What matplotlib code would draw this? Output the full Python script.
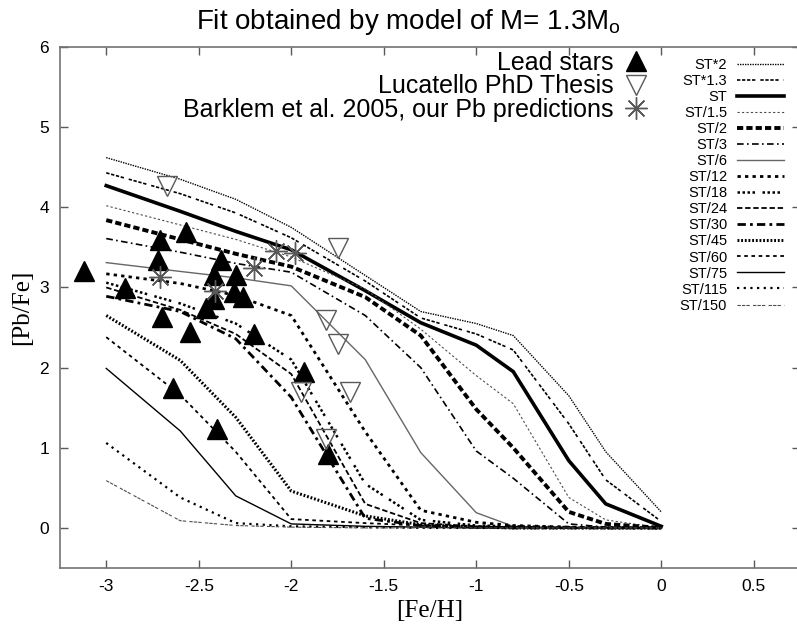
import numpy as np
import matplotlib
matplotlib.use("Agg")
import matplotlib.pyplot as plt

plt.rcParams["font.family"] = ["Liberation Sans", "DejaVu Sans"]
plt.rcParams["mathtext.fontset"] = "custom"
plt.rcParams["mathtext.rm"] = "Liberation Sans"

# model grid in [Fe/H]
feh = [-3.0, -2.6, -2.3, -2.0, -1.6, -1.3, -1.0, -0.8, -0.5, -0.3, 0.0]

# [Pb/Fe] predictions for each 13C-pocket efficiency
st_x2   = [4.62, 4.35, 4.10, 3.75, 3.15, 2.70, 2.55, 2.40, 1.65, 0.95, 0.20]
st_x13  = [4.43, 4.17, 3.93, 3.62, 3.08, 2.62, 2.42, 2.22, 1.30, 0.60, 0.08]
st      = [4.27, 3.95, 3.70, 3.47, 2.96, 2.56, 2.28, 1.95, 0.84, 0.30, 0.02]
st_d15  = [4.02, 3.78, 3.60, 3.38, 2.98, 2.48, 1.90, 1.55, 0.38, 0.10, 0.00]
st_d2   = [3.84, 3.60, 3.42, 3.26, 2.88, 2.40, 1.48, 1.00, 0.20, 0.05, 0.00]
st_d3   = [3.61, 3.44, 3.30, 3.19, 2.65, 2.00, 0.96, 0.62, 0.05, 0.01, 0.00]
st_d6   = [3.31, 3.20, 3.12, 3.02, 2.10, 0.94, 0.19, 0.02, 0.00, 0.00, 0.00]
st_d12  = [3.17, 3.05, 2.90, 2.65, 1.20, 0.22, 0.07, 0.03, 0.01, 0.00, 0.00]
st_d18  = [3.06, 2.80, 2.55, 2.10, 0.55, 0.10, 0.03, 0.02, 0.01, 0.00, 0.00]
st_d24  = [3.00, 2.72, 2.42, 1.92, 0.30, 0.06, 0.02, 0.01, 0.00, 0.00, 0.00]
st_d30  = [2.89, 2.70, 2.36, 1.63, 0.12, 0.03, 0.01, 0.00, 0.00, 0.00, 0.00]
st_d45  = [2.65, 2.09, 1.38, 0.46, 0.15, 0.04, 0.01, 0.00, 0.00, 0.00, 0.00]
st_d60  = [2.38, 1.66, 0.95, 0.11, 0.06, 0.03, 0.02, 0.01, 0.00, 0.00, 0.00]
st_d75  = [1.99, 1.21, 0.40, 0.05, 0.02, 0.01, 0.00, 0.00, 0.00, 0.00, 0.00]
st_d115 = [1.06, 0.38, 0.06, 0.02, 0.01, 0.00, 0.00, 0.00, 0.00, 0.00, 0.00]
st_d150 = [0.59, 0.09, 0.03, 0.01, 0.00, 0.00, 0.00, 0.00, 0.00, 0.00, 0.00]

# observations
lead_feh = [-3.12, -2.90, -2.71, -2.57, -2.72, -2.38, -2.42, -2.30, -2.31, -2.26,
            -2.42, -2.46, -2.70, -2.55, -2.20, -1.93, -2.64, -2.40, -1.80]
lead_pb  = [3.20, 2.99, 3.59, 3.69, 3.34, 3.34, 3.15, 3.15, 2.94, 2.88,
            2.86, 2.75, 2.63, 2.44, 2.42, 1.94, 1.74, 1.24, 0.92]
luca_feh = [-2.67, -1.75, -1.81, -1.75, -1.95, -1.68, -1.81]
luca_pb  = [4.27, 3.49, 2.59, 2.30, 1.69, 1.69, 1.11]
bark_feh = [-2.71, -2.41, -2.20, -2.08, -1.98]
bark_pb  = [3.13, 2.96, 3.24, 3.45, 3.43]

curves = [
    ("ST*2",   st_x2,   dict(color="k",   lw=1.0, ls=(0, (1, 0.8)))),
    ("ST*1.3", st_x13,  dict(color="k",   lw=1.2, ls=(0, (2, 1, 2, 1, 2, 1, 2, 3)))),
    ("ST",     st,      dict(color="k",   lw=2.6, ls="-")),
    ("ST/1.5", st_d15,  dict(color="0.3", lw=0.8, ls=(0, (2, 2)))),
    ("ST/2",   st_d2,   dict(color="k",   lw=2.8, ls=(0, (1.6, 0.8)))),
    ("ST/3",   st_d3,   dict(color="k",   lw=1.2, ls=(0, (4, 2, 1, 2)))),
    ("ST/6",   st_d6,   dict(color="0.4", lw=1.0, ls="-")),
    ("ST/12",  st_d12,  dict(color="k",   lw=2.0, ls=(0, (1.2, 1.5)))),
    ("ST/18",  st_d18,  dict(color="k",   lw=1.8, ls=(0, (1, 1, 1, 1, 1, 1, 1, 3)))),
    ("ST/24",  st_d24,  dict(color="k",   lw=1.3, ls=(0, (3, 1.5)))),
    ("ST/30",  st_d30,  dict(color="k",   lw=2.0, ls=(0, (3, 1.5, 1, 1.5)))),
    ("ST/45",  st_d45,  dict(color="k",   lw=2.2, ls=(0, (0.6, 0.6)))),
    ("ST/60",  st_d60,  dict(color="k",   lw=1.3, ls=(0, (2, 2)))),
    ("ST/75",  st_d75,  dict(color="k",   lw=1.0, ls="-")),
    ("ST/115", st_d115, dict(color="k",   lw=1.6, ls=(0, (1, 2)))),
    ("ST/150", st_d150, dict(color="0.3", lw=0.8, ls=(0, (3, 1, 3, 1, 3, 3)))),
]

W, H = 797, 626
fig = plt.figure(figsize=(W / 100, H / 100), dpi=100)
ax = fig.add_axes([60 / W, 1 - 568 / H, 740 / W, (568 - 47) / H])

line_handles = []
for name, vals, st_kw in curves:
    h, = ax.plot(feh, vals, label=name, **st_kw)
    line_handles.append(h)

m1, = ax.plot(lead_feh, lead_pb, ls="none", marker="^", ms=14, color="k",
              label="Lead stars")
m2, = ax.plot(luca_feh, luca_pb, ls="none", marker="v", ms=15, mfc="none",
              mec="0.35", mew=1.0, label="Lucatello PhD Thesis")
m3, = ax.plot(bark_feh, bark_pb, ls="none", marker=(8, 2, 0), ms=16, color="0.35",
              mew=1.0, label="Barklem et al. 2005, our Pb predictions")

ax.set_xlim(-3.25, 0.75)
ax.set_ylim(-0.5, 6)
ax.set_xticks([-3, -2.5, -2, -1.5, -1, -0.5, 0, 0.5])
ax.set_xticklabels(["-3", "-2.5", "-2", "-1.5", "-1", "-0.5", "0", "0.5"])
ax.set_yticks([0, 1, 2, 3, 4, 5, 6])
ax.tick_params(direction="in", top=True, right=True, length=6, width=1,
               color="0.35", labelsize=12.5, pad=8)
for sp in ax.spines.values():
    sp.set_color("0.45")
    sp.set_linewidth(1.2)

ax.set_xlabel("[Fe/H]", family=["Liberation Serif"], fontsize=18, labelpad=4)
ax.set_ylabel("[Pb/Fe]", family=["Liberation Serif"], fontsize=18, labelpad=4)
fig.text(408 / W, 1 - 22 / H, "Fit obtained by model of M= 1.3M$_\\mathrm{o}$",
         ha="center", va="center", fontsize=20)

leg1 = fig.legend(handles=[m1, m2, m3], loc="upper right",
                  bbox_to_anchor=(648 / W, 1 - 51 / H), frameon=False,
                  markerfirst=False, fontsize=18, handlelength=1.0,
                  handletextpad=0.38, labelspacing=-0.03, borderpad=0,
                  borderaxespad=0, numpoints=1)
leg2 = fig.legend(handles=line_handles, loc="upper right",
                  bbox_to_anchor=(784 / W, 1 - 58 / H), frameon=False,
                  markerfirst=False, fontsize=10.5, handlelength=3.2,
                  handletextpad=0.7, labelspacing=0.14, borderpad=0,
                  borderaxespad=0)

fig.savefig("out.png", dpi=100)
